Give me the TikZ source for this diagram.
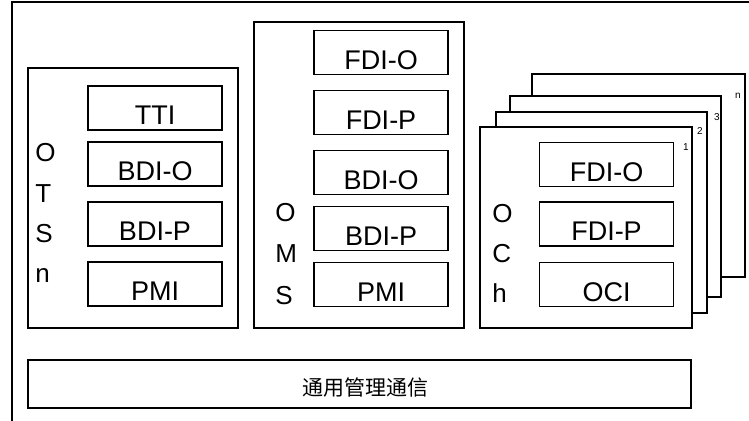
\documentclass[tikz,border=0pt]{standalone}
\usepackage{fontspec}
\setmainfont{Liberation Sans}
\newfontfamily\cjk{Noto Sans CJK SC}
\tikzset{
  frame/.style={draw, line width=0.85pt, fill=white},
  fieldbox/.style={draw, line width=0.85pt, inner sep=0pt, minimum width=67pt,
    text height=19.5pt, text depth=2.5pt, font=\fontsize{13.5}{16}\selectfont},
  letter/.style={anchor=base west, inner sep=0pt, font=\fontsize{13}{16}\selectfont},
  cardno/.style={inner sep=0pt, font=\fontsize{5}{6}\selectfont},
}
\begin{document}
\begin{tikzpicture}[x=0.5pt,y=-0.5pt]
    \useasboundingbox (0,0) rectangle (749,421);
    % outer frame, cut at right and bottom
    \draw[line width=0.85pt] (749,2) -- (12,2) -- (12,421);
    % OTSn
    \draw[frame] (28,68) rectangle (238,328);
    \node[fieldbox] (tti) at (155,108) {TTI};
    \node[fieldbox] (otsbdio) at (155,164) {BDI-O};
    \node[fieldbox] (otsbdip) at (155,224) {BDI-P};
    \node[fieldbox] (otspmi) at (155,284) {PMI};
    \foreach \t/\y [count=\i] in {O/162,T/202.5,S/243,n/283}
        \node[letter] (ots\i) at (35,\y) {\t};
    % OMS
    \draw[frame] (254,22) rectangle (464,328);
    \node[fieldbox] (omsfdio) at (381,52.5) {FDI-O};
    \node[fieldbox] (omsfdip) at (381,112.5) {FDI-P};
    \node[fieldbox] (omsbdio) at (381,172.5) {BDI-O};
    \node[fieldbox] (omsbdip) at (381,228.5) {BDI-P};
    \node[fieldbox] (omspmi) at (381,284.5) {PMI};
    \foreach \t/\y [count=\i] in {O/222,M/263,S/305}
        \node[letter] (oms\i) at (275,\y) {\t};
    % OCh cards, back to front
    \draw[frame] (532,74) rectangle (745,277);
    \node[cardno] (cardn) at (738,96) {n};
    \draw[frame] (510,96) rectangle (721,297);
    \node[cardno] (card3) at (717,117) {3};
    \draw[frame] (496,112) rectangle (707,313);
    \node[cardno] (card2) at (700,131) {2};
    \draw[frame] (480,127) rectangle (692,328);
    \node[cardno] (card1) at (686,147) {1};
    \node[fieldbox] (ochfdio) at (606.5,164.5) {FDI-O};
    \node[fieldbox] (ochfdip) at (606.5,224) {FDI-P};
    \node[fieldbox] (ochoci) at (606.5,284.5) {OCI};
    \foreach \t/\y [count=\i] in {O/223,C/263,h/303}
        \node[letter] (och\i) at (492,\y) {\t};
    % general management communication
    \draw[frame] (28,360) rectangle (691,408);
    \node[inner sep=0pt, font=\cjk\fontsize{10.5}{12}\selectfont] (gcc) at (365,388) {通用管理通信};
\end{tikzpicture}
\end{document}
